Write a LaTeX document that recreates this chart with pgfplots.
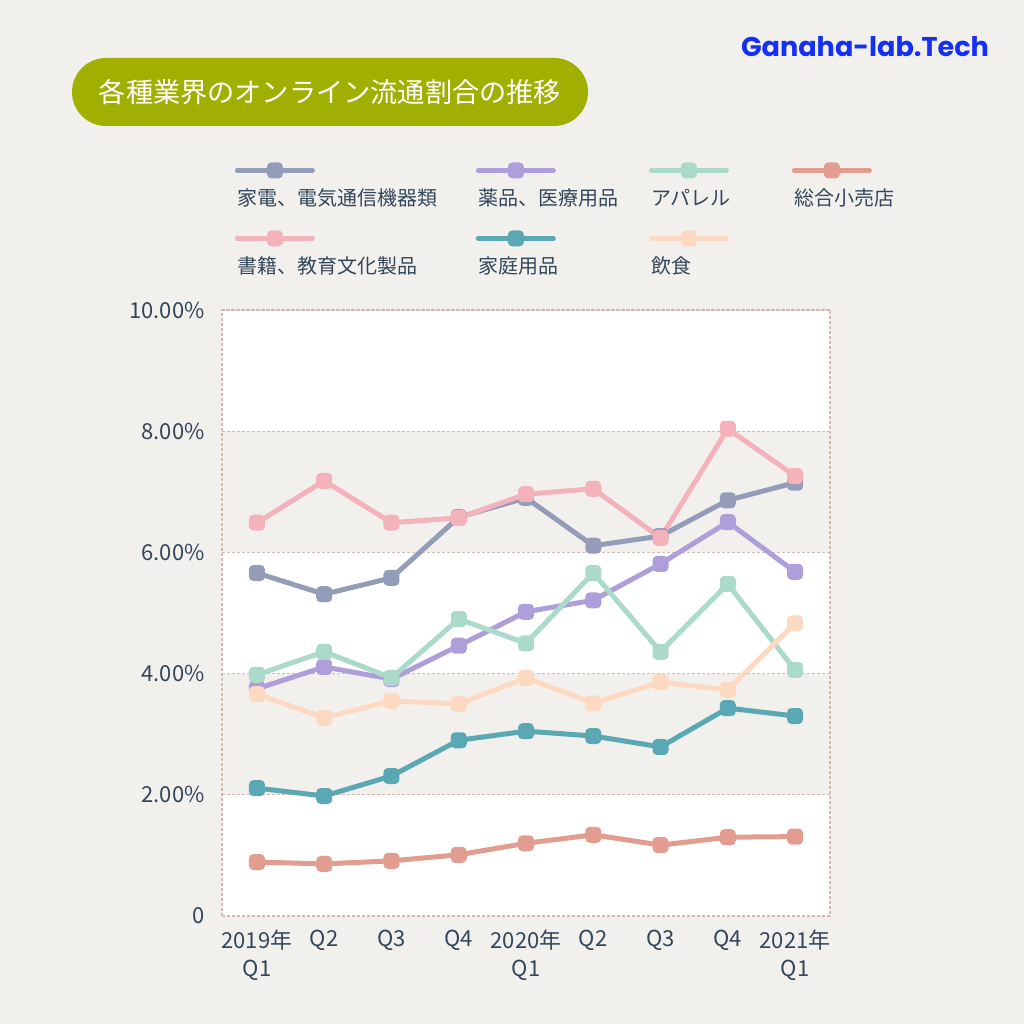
\documentclass[border=0pt]{standalone}
\usepackage{pgfplots}
\pgfplotsset{compat=1.18}
\usepackage{fontspec}
\setmainfont{Noto Sans CJK JP}
\newfontfamily\logofont{Poppins}
\definecolor{bgc}{HTML}{F2F0ED}
\definecolor{textc}{HTML}{33475B}
\definecolor{gridc}{HTML}{D6B8AE}
\definecolor{titlec}{HTML}{A0AF00}
\definecolor{logoc}{HTML}{1530F0}
\definecolor{c1}{HTML}{939DB9}
\definecolor{c2}{HTML}{AE9FDB}
\definecolor{c3}{HTML}{ABD9CA}
\definecolor{c4}{HTML}{E39D90}
\definecolor{c5}{HTML}{F4B2BA}
\definecolor{c6}{HTML}{5AA8B4}
\definecolor{c7}{HTML}{FDD9C1}
\pgfdeclareplotmark{rsq}{%
  \pgfpathmoveto{\pgfqpoint{-0.45\pgfplotmarksize}{-\pgfplotmarksize}}%
  \pgfpathlineto{\pgfqpoint{0.45\pgfplotmarksize}{-\pgfplotmarksize}}%
  \pgfpatharc{-90}{0}{0.55\pgfplotmarksize}%
  \pgfpathlineto{\pgfqpoint{\pgfplotmarksize}{0.45\pgfplotmarksize}}%
  \pgfpatharc{0}{90}{0.55\pgfplotmarksize}%
  \pgfpathlineto{\pgfqpoint{-0.45\pgfplotmarksize}{\pgfplotmarksize}}%
  \pgfpatharc{90}{180}{0.55\pgfplotmarksize}%
  \pgfpathlineto{\pgfqpoint{-\pgfplotmarksize}{-0.45\pgfplotmarksize}}%
  \pgfpatharc{180}{270}{0.55\pgfplotmarksize}%
  \pgfpathclose
  \pgfusepathqfill}
\begin{document}
\begin{tikzpicture}
\begin{axis}[
  set layers,
  clip=false,
  at={(111pt,54pt)}, anchor=south west,
  scale only axis, width=304pt, height=303pt,
  xmin=-0.52, xmax=8.52, ymin=0, ymax=10,
  axis line style={draw=gridc, line width=0.6pt, dash pattern=on 1.5pt off 1pt},
  ymajorgrids,
  grid style={draw=gridc, line width=0.6pt, dash pattern=on 1.5pt off 1pt},
  tick style={draw=none},
  ytick={0,2,4,6,8,10},
  yticklabels={0,2.00\%,4.00\%,6.00\%,8.00\%,10.00\%},
  yticklabel style={font=\fontsize{11}{13}\selectfont, text=textc, inner sep=0pt, xshift=-8.5pt},
  xtick={0,1,2,3,4,5,6,7,8},
  xticklabels={{2019年\\Q1},Q2,Q3,Q4,{2020年\\Q1},Q2,Q3,Q4,{2021年\\Q1}},
  xticklabel style={font=\fontsize{11}{14}\selectfont, text=textc, align=center, inner sep=0pt, yshift=-7pt},
  every axis plot/.append style={line width=2.5pt, line join=round, line cap=round, mark=rsq, mark size=4pt, mark options={solid}},
  legend columns=4,
  legend cell align=left,
  legend image code/.code={
    \path (0pt,0pt);
    \draw[overlay, mark repeat=2, mark phase=2] plot coordinates {(1.25pt,14pt) (20pt,14pt) (38.75pt,14pt)};
  },
  legend style={draw=none, fill=none, inner sep=0pt, at={(rel axis cs:0.0164,1.2013)}, anchor=north west,
    /tikz/column sep=0pt, /tikz/row sep=24pt,
    nodes={inner sep=0pt, text height=8.5pt, text depth=1.5pt, font=\fontsize{10}{12}\selectfont, text=textc}},
]
\begin{pgfonlayer}{axis background}
\fill[bgc] (rel axis cs:-0.36513,-0.17822) rectangle (rel axis cs:1.31908,1.51155);
\fill[white] (axis cs:-0.52,0) rectangle (axis cs:8.52,10);
\fill[bgc] (axis cs:-0.52,2) rectangle (axis cs:8.52,4);
\fill[bgc] (axis cs:-0.52,6) rectangle (axis cs:8.52,8);
\end{pgfonlayer}
\addplot[color=c1] coordinates {(0,5.66) (1,5.31) (2,5.58) (3,6.58) (4,6.90) (5,6.11) (6,6.27) (7,6.86) (8,7.15)};
\addlegendentry{\makebox[118pt][l]{家電、電気通信機器類}}
\addplot[color=c2] coordinates {(0,3.75) (1,4.11) (2,3.91) (3,4.46) (4,5.02) (5,5.21) (6,5.81) (7,6.50) (8,5.68)};
\addlegendentry{\makebox[84pt][l]{薬品、医療用品}}
\addplot[color=c3] coordinates {(0,3.98) (1,4.36) (2,3.93) (3,4.90) (4,4.50) (5,5.66) (6,4.36) (7,5.48) (8,4.06)};
\addlegendentry{\makebox[69pt][l]{アパレル}}
\addplot[color=c4] coordinates {(0,0.89) (1,0.86) (2,0.91) (3,1.01) (4,1.20) (5,1.34) (6,1.17) (7,1.30) (8,1.31)};
\addlegendentry{総合小売店}
\addplot[color=c5] coordinates {(0,6.49) (1,7.18) (2,6.49) (3,6.57) (4,6.96) (5,7.05) (6,6.24) (7,8.04) (8,7.26)};
\addlegendentry{\makebox[118pt][l]{書籍、教育文化製品}}
\addplot[color=c6] coordinates {(0,2.11) (1,1.98) (2,2.31) (3,2.90) (4,3.05) (5,2.97) (6,2.79) (7,3.43) (8,3.30)};
\addlegendentry{\makebox[84pt][l]{家庭用品}}
\addplot[color=c7] coordinates {(0,3.66) (1,3.27) (2,3.55) (3,3.50) (4,3.93) (5,3.51) (6,3.86) (7,3.73) (8,4.83)};
\addlegendentry{\makebox[69pt][l]{飲食}}
\end{axis}
% title pill
\fill[titlec, rounded corners=17pt] (36pt,449pt) rectangle (294pt,483pt);
\node[text=white, font=\fontsize{13.6}{16}\selectfont, inner sep=0pt] at (165pt,466pt) {各種業界のオンライン流通割合の推移};
% logo
\node[text=logoc, inner sep=0pt] at (432.5pt,488.5pt) {\resizebox{124pt}{!}{\logofont\bfseries Ganaha-lab.Tech}};
\pgfresetboundingbox
\path[use as bounding box] (0,0) rectangle (512pt,512pt);
\end{tikzpicture}
\end{document}
